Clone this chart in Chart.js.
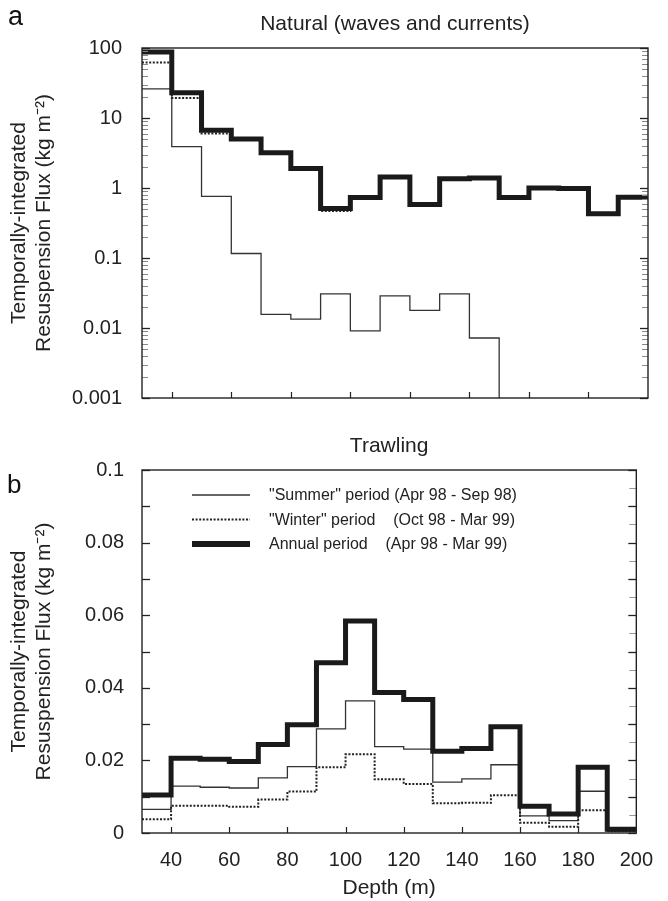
<!DOCTYPE html>
<html>
<head>
<meta charset="utf-8">
<script src="https://cdn.jsdelivr.net/npm/chart.js@4.4.0/dist/chart.umd.min.js"></script>
<style>
  html, body { margin:0; padding:0; background:#fff; }
  #wrap { position:relative; width:668px; height:901px; }
  #boxA { position:absolute; left:0; top:0; width:668px; height:430px; }
  #boxB { position:absolute; left:0; top:430px; width:668px; height:471px; }
</style>
</head>
<body>
<div id="wrap">
  <div id="boxA"><canvas id="chartA"></canvas></div>
  <div id="boxB"><canvas id="chartB"></canvas></div>
</div>
<script>
// depth bins (left edge of each 10 m bin), last bin ends at 200 m
var depthBins = [30,40,50,60,70,80,90,100,110,120,130,140,150,160,170,180,190];
var depthEnd = 200;
var depthTicks = [40,60,80,100,120,140,160,180,200];

// panel a: natural (waves and currents), kg m-2
var annualA = [88, 23, 6.7, 5.0, 3.2, 1.9, 0.51, 0.73, 1.44, 0.58, 1.36, 1.39, 0.73, 1.0, 0.98, 0.43, 0.74];
var summerA = [26, 3.9, 0.76, 0.116, 0.0157, 0.0134, 0.0307, 0.0091, 0.0288, 0.0178, 0.0307, 0.0072, 0, 0, 0, 0, 0];
var winterA = [62, 19.3, 6.0, 4.9, 3.18, 1.89, 0.47, 0.72, 1.41, 0.56, 1.33, 1.38, 0.73, 1.0, 0.98, 0.43, 0.74];

// panel b: trawling, kg m-2
var annualB = [0.0105, 0.0206, 0.0203, 0.0197, 0.0244, 0.0298, 0.0469, 0.0584, 0.0387, 0.0368, 0.0225, 0.0233, 0.0293, 0.0074, 0.0052, 0.0181, 0.001];
var summerB = [0.0065, 0.0129, 0.0126, 0.0124, 0.0152, 0.0183, 0.0287, 0.0364, 0.0238, 0.0231, 0.0140, 0.0149, 0.0188, 0.0047, 0.0034, 0.0115, 0.0005];
var winterB = [0.0038, 0.0075, 0.0075, 0.0072, 0.0092, 0.0114, 0.0181, 0.0217, 0.0148, 0.0135, 0.0082, 0.0083, 0.0104, 0.0028, 0.0017, 0.0063, 0.0005];

// ticks
var logDecades = [0.001, 0.01, 0.1, 1, 10, 100];
var logLabels = ['0.001', '0.01', '0.1', '1', '10', '100'];
var logMinorSteps = [2,3,4,5,6,7,8,9];
var trawlTicks = [0, 0.02, 0.04, 0.06, 0.08, 0.1];
var trawlLabels = ['0', '0.02', '0.04', '0.06', '0.08', '0.1'];
var trawlMinor = [0.01, 0.03, 0.05, 0.07, 0.09];
var trawlMinorRight = [0.005, 0.015, 0.025, 0.035, 0.045, 0.055, 0.065, 0.075, 0.085, 0.095];

var legendLabels = ['"Summer" period (Apr 98 - Sep 98)', '"Winter" period\u00a0\u00a0\u00a0\u00a0(Oct 98 - Mar 99)', 'Annual period\u00a0\u00a0\u00a0\u00a0(Apr 98 - Mar 99)'];
var yTitle = ['Temporally-integrated', 'Resuspension Flux (kg m\u207b\u00b2)'];

var FONT = "'Liberation Sans', Arial, Helvetica, sans-serif";
Chart.defaults.font.family = FONT;
Chart.defaults.font.size = 20;
Chart.defaults.color = '#222';

function steps(vals, floor){
  var pts = depthBins.map(function(d, i){
    var v = vals[i];
    if (floor && v <= 0) v = floor;   // zero can't sit on a log axis, push it below
    return {x: d, y: v};
  });
  pts.push({x: depthEnd, y: pts[pts.length-1].y});
  return pts;
}

var styles = {
  annual: {borderColor:'#1a1a1a', borderWidth:5, borderDash:[]},
  summer: {borderColor:'#333', borderWidth:1.3, borderDash:[]},
  winter: {borderColor:'#222', borderWidth:2, borderDash:[2,1.6]}
};

function ds(label, data, st){
  return {label: label, data: data, stepped: 'before', pointRadius: 0, fill: false,
    borderColor: st.borderColor, borderWidth: st.borderWidth, borderDash: st.borderDash,
    borderJoinStyle: 'miter', borderCapStyle: 'butt', tension: 0};
}

var frameTicks = {
  id: 'frameTicks',
  afterDraw: function(chart, args, o){
    var ctx = chart.ctx, a = chart.chartArea, xs = chart.scales.x, ys = chart.scales.y;
    ctx.save();
    function hTick(v, side, len, col, w){
      var py = Math.round(ys.getPixelForValue(v)) + 0.5;
      ctx.strokeStyle = col; ctx.lineWidth = w;
      ctx.beginPath();
      if (side === 'l'){ ctx.moveTo(a.left, py); ctx.lineTo(a.left + len, py); }
      else { ctx.moveTo(a.right, py); ctx.lineTo(a.right - len, py); }
      ctx.stroke();
    }
    o.xTicks.forEach(function(v){
      var px = Math.round(xs.getPixelForValue(v)) + 0.5;
      ctx.strokeStyle = '#222'; ctx.lineWidth = 1.2;
      ctx.beginPath(); ctx.moveTo(px, a.bottom); ctx.lineTo(px, a.bottom - 6); ctx.stroke();
    });
    o.minorLeft.forEach(function(v){ hTick(v, 'l', o.minorLen, o.minorCol, 1); });
    o.minorRight.forEach(function(v){ hTick(v, 'r', o.minorLen, o.minorCol, 1); });
    o.major.forEach(function(v){ hTick(v, 'l', 8, '#222', 1.3); hTick(v, 'r', 8, '#222', 1.3); });
    o.majorRightExtra.forEach(function(v){ hTick(v, 'r', 8, '#222', 1.3); });
    o.majorLeftExtra.forEach(function(v){ hTick(v, 'l', 8, '#222', 1.3); });

    ctx.strokeStyle = '#222'; ctx.lineWidth = 1.4;
    ctx.strokeRect(a.left, a.top, a.right - a.left, a.bottom - a.top);

    ctx.fillStyle = '#111';
    ctx.font = o.letterSize + 'px ' + FONT;
    ctx.textBaseline = 'alphabetic'; ctx.textAlign = 'left';
    ctx.fillText(o.letter, o.letterX, o.letterY);

    if (o.legend){
      var order = ['summer', 'winter', 'annual'];
      var lw = {summer: 1.3, winter: 2, annual: 6};
      ctx.font = '16px ' + FONT;
      ctx.textBaseline = 'middle';
      order.forEach(function(k, i){
        var y = o.legendY + i * 24.5, st = styles[k];
        ctx.strokeStyle = st.borderColor; ctx.lineWidth = lw[k];
        ctx.setLineDash(st.borderDash);
        ctx.beginPath(); ctx.moveTo(192, y); ctx.lineTo(250, y); ctx.stroke();
        ctx.setLineDash([]);
        ctx.fillStyle = '#222';
        ctx.fillText(legendLabels[i], 269, y + 1);
      });
    }
    ctx.restore();
  }
};

var logMinor = [];
logDecades.slice(0, -1).forEach(function(d){ logMinorSteps.forEach(function(m){ logMinor.push(d * m); }); });

new Chart(document.getElementById('chartA'), {
  type: 'line',
  data: {
    datasets: [
      ds('Annual period', steps(annualA), styles.annual),
      ds('"Winter" period', steps(winterA), styles.winter),
      ds('"Summer" period', steps(summerA, 1e-6), styles.summer)
    ]
  },
  options: {
    responsive: true, maintainAspectRatio: false, animation: false,
    layout: {padding: {left: 0, right: 20, top: 0, bottom: 0}},
    plugins: {
      legend: {display: false}, tooltip: {enabled: false},
      title: {display: true, text: 'Natural (waves and currents)', fullSize: false,
        font: {size: 21, weight: 'normal', lineHeight: 1.2}, color: '#222', padding: {top: 11.5, bottom: 11.3}},
      frameTicks: {xTicks: depthTicks.slice(0, -1), major: logDecades, minorLeft: logMinor, minorRight: logMinor,
        majorRightExtra: [], majorLeftExtra: [], minorLen: 6, minorCol: '#888',
        letter: 'a', letterX: 8, letterY: 25, letterSize: 27, legend: false}
    },
    scales: {
      x: {type: 'linear', min: 30, max: 200, grid: {display: false, drawTicks: false}, border: {display: false},
        ticks: {display: false},
        afterFit: function(s){ s.height = 21; }},
      y: {type: 'logarithmic', min: 0.001, max: 100, grid: {display: false, drawTicks: false}, border: {display: false},
        afterBuildTicks: function(s){ s.ticks = logDecades.map(function(v){ return {value: v}; }); },
        ticks: {padding: 20, autoSkip: false, color: '#222',
          callback: function(v, i){ return logLabels[i]; }},
        title: {display: true, text: yTitle, font: {size: 21, lineHeight: 1.19}, color: '#222', padding: {top: 6.5, bottom: 0}},
        afterFit: function(s){ s.width = 142; }}
    }
  },
  plugins: [frameTicks]
});

new Chart(document.getElementById('chartB'), {
  type: 'line',
  data: {
    datasets: [
      ds('Annual period', steps(annualB), styles.annual),
      ds('"Winter" period', steps(winterB), styles.winter),
      ds('"Summer" period', steps(summerB), styles.summer)
    ]
  },
  options: {
    responsive: true, maintainAspectRatio: false, animation: false,
    layout: {padding: {left: 0, right: 20, top: 0, bottom: 0}},
    plugins: {
      legend: {display: false}, tooltip: {enabled: false},
      title: {display: true, text: 'Trawling', fullSize: false,
        font: {size: 21, weight: 'normal', lineHeight: 1.2}, color: '#222', padding: {top: 3.4, bottom: 11.4}},
      frameTicks: {xTicks: depthTicks.slice(0, -1), major: trawlTicks, minorLeft: [], minorRight: trawlMinorRight,
        majorRightExtra: trawlMinor, majorLeftExtra: trawlMinor, minorLen: 7, minorCol: '#999',
        letter: 'b', letterX: 7, letterY: 63, letterSize: 26, legend: true, legendY: 65}
    },
    scales: {
      x: {type: 'linear', min: 30, max: 200, grid: {display: false, drawTicks: false}, border: {display: false},
        afterBuildTicks: function(s){ s.ticks = depthTicks.map(function(v){ return {value: v}; }); },
        ticks: {padding: 15, autoSkip: false, maxRotation: 0, color: '#222'},
        title: {display: true, text: 'Depth (m)', font: {size: 21}, color: '#222', padding: {top: 0, bottom: 0}},
        afterFit: function(s){ s.height = 68; }},
      y: {type: 'linear', min: 0, max: 0.1, grid: {display: false, drawTicks: false}, border: {display: false},
        afterBuildTicks: function(s){ s.ticks = trawlTicks.map(function(v){ return {value: v}; }); },
        ticks: {padding: 18, autoSkip: false, color: '#222',
          callback: function(v, i){ return trawlLabels[i]; }},
        title: {display: true, text: yTitle, font: {size: 21, lineHeight: 1.19}, color: '#222', padding: {top: 6.5, bottom: 0}},
        afterFit: function(s){ s.width = 142; }}
    }
  },
  plugins: [frameTicks]
});
</script>
</body>
</html>
